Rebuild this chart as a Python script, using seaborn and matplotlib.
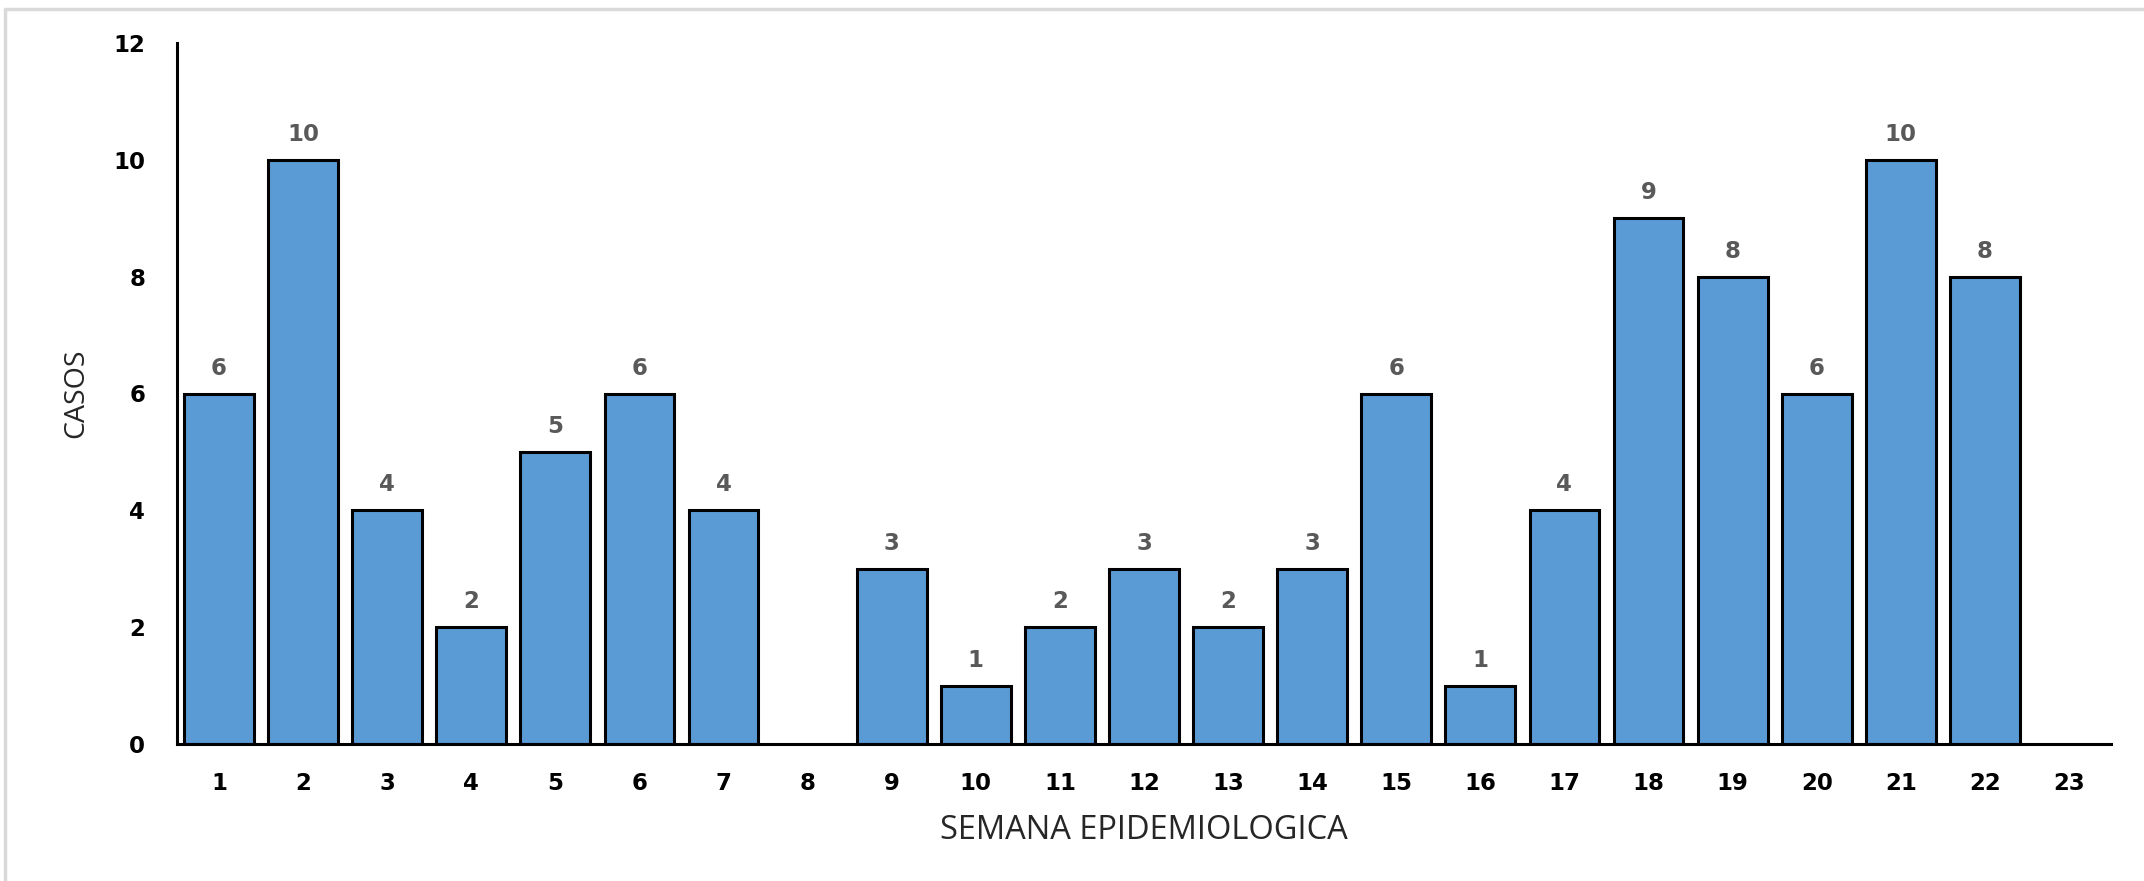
import matplotlib
matplotlib.use("Agg")
import matplotlib.pyplot as plt
from matplotlib.lines import Line2D
import seaborn as sns
import pandas as pd
import numpy as np

weeks = [str(i) for i in range(1, 24)]
cases = [6, 10, 4, 2, 5, 6, 4, None, 3, 1, 2, 3, 2, 3, 6, 1, 4, 9, 8, 6, 10, 8, None]
y_ticks = [0, 2, 4, 6, 8, 10, 12]
x_title = "SEMANA EPIDEMIOLOGICA"
y_title = "CASOS"

sns.set_style("white")
plt.rcParams["font.family"] = ["DejaVu Sans"]

df = pd.DataFrame({"semana": weeks, "casos": cases}).dropna()

W, H, DPI = 2144, 881, 100
fig = plt.figure(figsize=(W / DPI, H / DPI), dpi=DPI)
ax = fig.add_axes([177 / W, 1 - 744 / H, (2111 - 177) / W, (744 - 43) / H])

sns.barplot(data=df, x="semana", y="casos", order=weeks, color="#5B9BD5",
            saturation=1, width=0.83, edgecolor="black", linewidth=2.2, ax=ax)

ax.set_xlim(-0.5, len(weeks) - 0.5)
ax.set_ylim(0, 12)
ax.set_yticks(y_ticks)
ax.set_yticklabels([str(t) for t in y_ticks])

for c in ax.containers:
    ax.bar_label(c, labels=[f"{int(v)}" for v in c.datavalues], padding=10,
                 fontsize=16.5, fontweight="bold", color="#595959")

ax.tick_params(axis="both", length=0, labelsize=16.5, colors="black")
ax.tick_params(axis="y", pad=23)
ax.tick_params(axis="x", pad=20)
for lab in ax.get_xticklabels() + ax.get_yticklabels():
    lab.set_fontweight("bold")

for s in ["top", "right"]:
    ax.spines[s].set_visible(False)
for s in ["left", "bottom"]:
    ax.spines[s].set_color("black")
    ax.spines[s].set_linewidth(2.2)

lab_font = ["Open Sans", "DejaVu Sans"]
ax.set_xlabel(x_title, fontsize=23.5, family=lab_font, color="#262626")
ax.set_ylabel(y_title, fontsize=20.5, family=lab_font, color="#262626")
ax.xaxis.set_label_coords(0.5, -(814 - 744) / (744 - 43))
ax.yaxis.set_label_coords(-(177 - 90) / (2111 - 177), (744 - 393) / (744 - 43))

# light gray frame (left and top)
fig.add_artist(Line2D([5 / W, 5 / W], [0, 1 - 9 / H], color="#D9D9D9", lw=2.5,
                      transform=fig.transFigure))
fig.add_artist(Line2D([5 / W, 1], [1 - 9 / H, 1 - 9 / H], color="#D9D9D9", lw=2.5,
                      transform=fig.transFigure))

fig.savefig("out.png", dpi=DPI)
